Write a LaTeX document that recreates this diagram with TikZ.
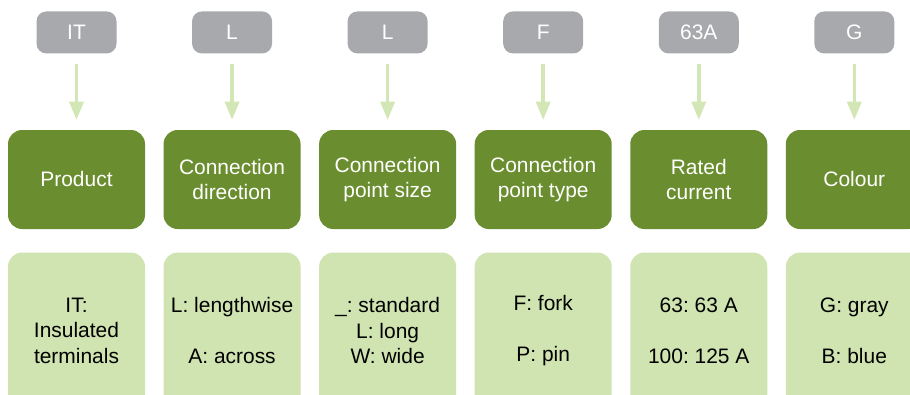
\documentclass[tikz,border=0pt]{standalone}
\usepackage{fontspec}
\setmainfont{Liberation Sans}
\usetikzlibrary{arrows.meta,positioning}
\definecolor{CodeGray}{HTML}{A7A9AC}
\definecolor{FieldGreen}{HTML}{6A8E2F}
\definecolor{ValueGreen}{HTML}{CFE4B0}
\definecolor{ArrowGreen}{HTML}{D2E7B5}
\tikzset{
  codebox/.style={rounded corners=7pt, fill=CodeGray, text=white, minimum width=2cm, minimum height=1.05cm, inner sep=0pt},
  fieldbox/.style={rounded corners=10pt, fill=FieldGreen, text=white, align=center, minimum width=3.425cm, minimum height=2.475cm, inner sep=0pt, font=\fontsize{14.9}{17.2}\selectfont},
  valuebox/.style={rounded corners=10pt, fill=ValueGreen, text=black, align=center, minimum width=3.425cm, minimum height=3.9cm, inner sep=0pt, font=\fontsize{14.9}{18.2}\selectfont},
  arrow/.style={-{Triangle[length=13pt, width=10pt]}, line width=2.5pt, draw=ArrowGreen, shorten <=7pt, shorten >=7pt}
}
\frenchspacing

\begin{document}
\begin{tikzpicture}[node distance=0.45cm, font=\fontsize{14.9}{17.2}\selectfont]
    \useasboundingbox (0,0) rectangle (22.75,-9.875);
    \clip (0,0) rectangle (22.75,-9.875);
    % field row
    \node[fieldbox] (prod) at (1.9125,-4.4875) {Product};
    \node[fieldbox, right=of prod] (dir) {Connection\\direction};
    \node[fieldbox, right=of dir] (size) {Connection\\point size\vphantom{n}};
    \node[fieldbox, right=of size] (type) {Connection\\point type};
    \node[fieldbox, right=of type] (curr) {Rated\\current};
    \node[fieldbox, right=of curr] (col) {Colour};
    % code row
    \node[codebox, above=1.9cm of prod] (prodcode) {IT};
    \node[codebox, above=1.9cm of dir] (dircode) {L};
    \node[codebox, above=1.9cm of size] (sizecode) {L};
    \node[codebox, above=1.9cm of type] (typecode) {F};
    \node[codebox, above=1.9cm of curr] (currcode) {63A};
    \node[codebox, above=1.9cm of col] (colcode) {G};
    % value row
    \node[valuebox, below=0.575cm of prod] (prodval) {IT:\\Insulated\\terminals};
    \node[valuebox, below=0.575cm of dir] (dirval) {L: lengthwise\\[18pt]A: across};
    \node[valuebox, below=0.575cm of size] (sizeval) {\_: standard\\L: long\\W: wide};
    \node[valuebox, below=0.575cm of type] (typeval) {F: fork\\[18pt]P: pin};
    \node[valuebox, below=0.575cm of curr] (currval) {63: 63 A\\[18pt]100: 125 A};
    \node[valuebox, below=0.575cm of col] (colval) {G: gray\\[18pt]B: blue};

    \draw[arrow] (prodcode) -- (prod);
    \draw[arrow] (dircode) -- (dir);
    \draw[arrow] (sizecode) -- (size);
    \draw[arrow] (typecode) -- (type);
    \draw[arrow] (currcode) -- (curr);
    \draw[arrow] (colcode) -- (col);
  \end{tikzpicture}
\end{document}
